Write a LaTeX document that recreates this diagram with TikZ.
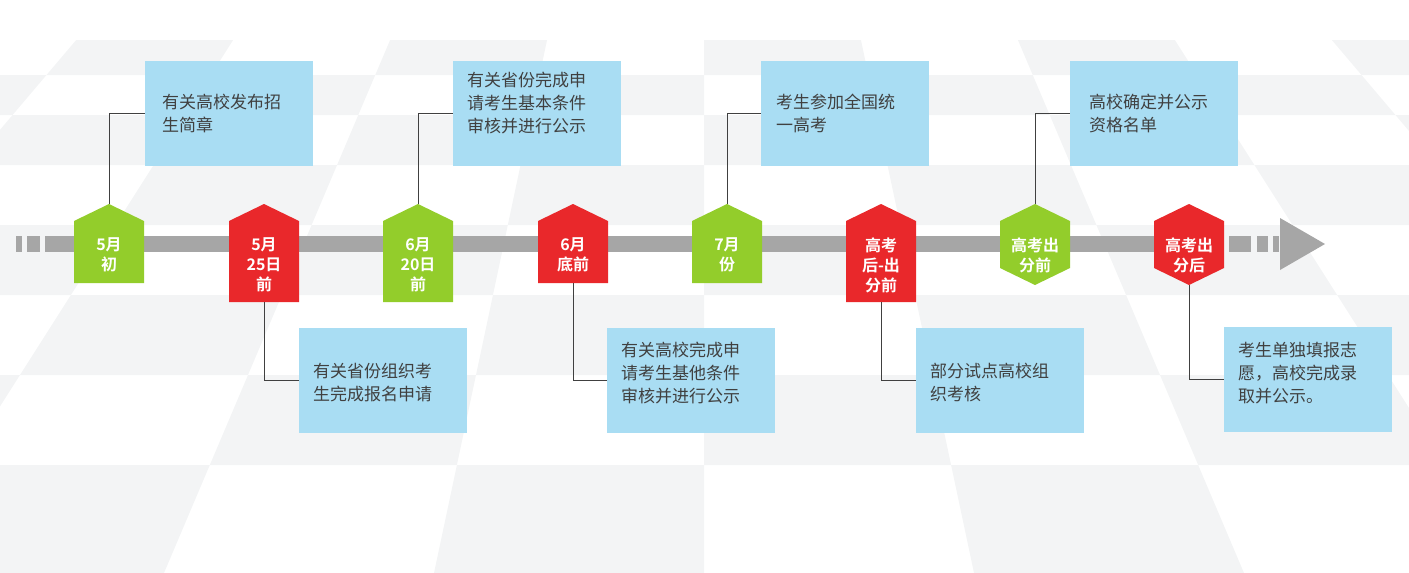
\documentclass[tikz,border=0pt]{standalone}
\usepackage{fontspec}
\newfontfamily\cjk{Noto Sans CJK SC}
\newfontfamily\cjkb{Noto Sans CJK SC Bold}
\definecolor{bx}{HTML}{A9DDF3}
\definecolor{gn}{HTML}{93CD2B}
\definecolor{rd}{HTML}{E9282B}
\definecolor{br}{HTML}{A6A6A6}
\definecolor{tx}{HTML}{404040}
\definecolor{tile}{HTML}{F3F4F5}
\tikzset{
 box/.style={fill=bx,minimum width=168pt,minimum height=105pt,inner sep=0pt},
 btxt/.style={anchor=north west,align=left,text=tx,font=\cjk\fontsize{17}{23}\selectfont,inner sep=0pt},
 ntxt/.style={align=center,text=white,font=\cjkb\fontsize{16}{20}\selectfont,inner sep=0pt},
 conn/.style={draw=tx,line width=0.9pt}
}
\begin{document}
\begin{tikzpicture}[x=1pt,y=-1pt]
\useasboundingbox (0,0) rectangle (1409,573);
% background tiles
\def\vy{-700}
\foreach \r/\ya/\yb in {0/40/75,1/75/115,2/115/165,3/165/225,4/225/295,5/295/375,6/375/465,7/465/573}{
 \foreach \k in {-6,...,5}{
  \pgfmathparse{int(mod(\r+\k+20,2))}
  \ifnum\pgfmathresult=0
   \pgfmathsetmacro\fa{(\ya-\vy)/(573-\vy)}
   \pgfmathsetmacro\fb{(\yb-\vy)/(573-\vy)}
   \fill[tile] ({704+\k*270*\fa},\ya) -- ({704+(\k+1)*270*\fa},\ya) -- ({704+(\k+1)*270*\fb},\yb) -- ({704+\k*270*\fb},\yb) -- cycle;
  \fi
 }
}
% bar
\fill[br] (16,236) rectangle (22,252);
\fill[br] (27,236) rectangle (40,252);
\fill[br] (45,236) rectangle (1222,252);
\fill[br] (1229,236) rectangle (1251,252);
\fill[br] (1257,236) rectangle (1268,252);
\fill[br] (1273,236) rectangle (1279,252);
\fill[br] (1280,218) -- (1325,244) -- (1280,270) -- cycle;
% markers
\newcommand\pent[4]{% x, color, name, bottom
 \fill[#2] (#1-35,221) -- (#1,204) -- (#1+35,221) -- (#1+35,#4) -- (#1-35,#4) -- cycle;
 \coordinate (#3t) at (#1,204); \coordinate (#3b) at (#1,#4);}
\newcommand\hexa[3]{%
 \fill[#2] (#1-35,221) -- (#1,204) -- (#1+35,221) -- (#1+35,268) -- (#1,285) -- (#1-35,268) -- cycle;
 \coordinate (#3t) at (#1,204); \coordinate (#3b) at (#1,285);}
\pent{109}{gn}{m1}{283}
\pent{264}{rd}{m2}{302}
\pent{418}{gn}{m3}{302}
\pent{573}{rd}{m4}{283}
\pent{727}{gn}{m5}{283}
\pent{881}{rd}{m6}{302}
\hexa{1035}{gn}{m7}
\hexa{1189}{rd}{m8}
\node[ntxt] (l1) at (109,255) {5月\\初};
\node[ntxt] (l2) at (264,265) {5月\\25日\\前};
\node[ntxt] (l3) at (418,265) {6月\\20日\\前};
\node[ntxt] (l4) at (573,255) {6月\\底前};
\node[ntxt] (l5) at (727,255) {7月\\份};
\node[ntxt] (l6) at (881,265) {高考\\后-出\\分前};
\node[ntxt] (l7) at (1035,255) {高考出\\分前};
\node[ntxt] (l8) at (1189,255) {高考出\\分后};
% boxes
\node[box,anchor=north west] (b1) at (145,61) {};
\node[box,anchor=north west] (b3) at (453,61) {};
\node[box,anchor=north west] (b5) at (761,61) {};
\node[box,anchor=north west] (b7) at (1070,61) {};
\node[box,anchor=north west] (b2) at (299,328) {};
\node[box,anchor=north west] (b4) at (607,328) {};
\node[box,anchor=north west] (b6) at (916,328) {};
\node[box,anchor=north west] (b8) at (1224,327) {};
\node[btxt] (t1) at (162,94) {有关高校发布招\\生简章};
\node[btxt] (t3) at (467,72) {有关省份完成申\\请考生基本条件\\审核并进行公示};
\node[btxt] (t5) at (776,94) {考生参加全国统\\一高考};
\node[btxt] (t7) at (1089,94) {高校确定并公示\\资格名单};
\node[btxt] (t2) at (313,363) {有关省份组织考\\生完成报名申请};
\node[btxt] (t4) at (621,342) {有关高校完成申\\请考生基他条件\\审核并进行公示};
\node[btxt] (t6) at (930,363) {部分试点高校组\\织考核};
\node[btxt] (t8) at (1238,342) {考生单独填报志\\愿，高校完成录\\取并公示。};
% connectors
\draw[conn] (m1t) |- (b1.west |- 0,113);
\draw[conn] (m3t) |- (b3.west |- 0,113);
\draw[conn] (m5t) |- (b5.west |- 0,113);
\draw[conn] (m7t) |- (b7.west |- 0,113);
\draw[conn] (m2b) |- (b2.west |- 0,380);
\draw[conn] (m4b) |- (b4.west |- 0,380);
\draw[conn] (m6b) |- (b6.west |- 0,380);
\draw[conn] (m8b) |- (b8.west |- 0,379);
\end{tikzpicture}
\end{document}
